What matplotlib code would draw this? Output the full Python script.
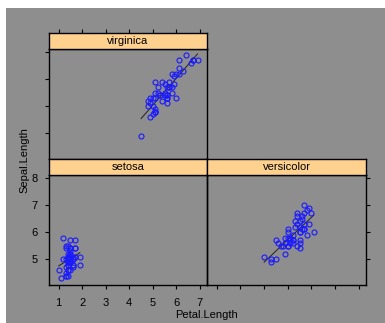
import numpy as np
import matplotlib
matplotlib.use("Agg")
import matplotlib.pyplot as plt
from matplotlib.patches import Rectangle

# ---- data (iris: Petal.Length vs Sepal.Length by Species) ----
setosa_petal = [1.4, 1.4, 1.3, 1.5, 1.4, 1.7, 1.4, 1.5, 1.4, 1.5, 1.5, 1.6, 1.4, 1.1, 1.2,
                1.5, 1.3, 1.4, 1.7, 1.5, 1.7, 1.5, 1.0, 1.7, 1.9, 1.6, 1.6, 1.5, 1.4, 1.6,
                1.6, 1.5, 1.5, 1.4, 1.5, 1.2, 1.3, 1.4, 1.3, 1.5, 1.3, 1.3, 1.3, 1.6, 1.9,
                1.4, 1.6, 1.4, 1.5, 1.4]
setosa_sepal = [5.1, 4.9, 4.7, 4.6, 5.0, 5.4, 4.6, 5.0, 4.4, 4.9, 5.4, 4.8, 4.8, 4.3, 5.8,
                5.7, 5.4, 5.1, 5.7, 5.1, 5.4, 5.1, 4.6, 5.1, 4.8, 5.0, 5.0, 5.2, 5.2, 4.7,
                4.8, 5.4, 5.2, 5.5, 4.9, 5.0, 5.5, 4.9, 4.4, 5.1, 5.0, 4.5, 4.4, 5.0, 5.1,
                4.8, 5.1, 4.6, 5.3, 5.0]
versicolor_petal = [4.7, 4.5, 4.9, 4.0, 4.6, 4.5, 4.7, 3.3, 4.6, 3.9, 3.5, 4.2, 4.0, 4.7, 3.6,
                    4.4, 4.5, 4.1, 4.5, 3.9, 4.8, 4.0, 4.9, 4.7, 4.3, 4.4, 4.8, 5.0, 4.5, 3.5,
                    3.8, 3.7, 3.9, 5.1, 4.5, 4.5, 4.7, 4.4, 4.1, 4.0, 4.4, 4.6, 4.0, 3.3, 4.2,
                    4.2, 4.2, 4.3, 3.0, 4.1]
versicolor_sepal = [7.0, 6.4, 6.9, 5.5, 6.5, 5.7, 6.3, 4.9, 6.6, 5.2, 5.0, 5.9, 6.0, 6.1, 5.6,
                    6.7, 5.6, 5.8, 6.2, 5.6, 5.9, 6.1, 6.3, 6.1, 6.4, 6.6, 6.8, 6.7, 6.0, 5.7,
                    5.5, 5.5, 5.8, 6.0, 5.4, 6.0, 6.7, 6.3, 5.6, 5.5, 5.5, 6.1, 5.8, 5.0, 5.6,
                    5.7, 5.7, 6.2, 5.1, 5.7]
virginica_petal = [6.0, 5.1, 5.9, 5.6, 5.8, 6.6, 4.5, 6.3, 5.8, 6.1, 5.1, 5.3, 5.5, 5.0, 5.1,
                   5.3, 5.5, 6.7, 6.9, 5.0, 5.7, 4.9, 6.7, 4.9, 5.7, 6.0, 4.8, 4.9, 5.6, 5.8,
                   6.1, 6.4, 5.6, 5.1, 5.6, 6.1, 5.6, 5.5, 4.8, 5.4, 5.6, 5.1, 5.1, 5.9, 5.7,
                   5.2, 5.0, 5.2, 5.4, 5.1]
virginica_sepal = [6.3, 5.8, 7.1, 6.3, 6.5, 7.6, 4.9, 7.3, 6.7, 7.2, 6.5, 6.4, 6.8, 5.7, 5.8,
                   6.4, 6.5, 7.7, 7.7, 6.0, 6.9, 5.6, 7.7, 6.3, 6.7, 7.2, 6.2, 6.1, 6.4, 7.2,
                   7.4, 7.9, 6.4, 6.3, 6.1, 7.7, 6.3, 6.4, 6.0, 6.9, 6.7, 6.9, 5.8, 6.8, 6.7,
                   6.7, 6.3, 6.5, 6.2, 5.9]

x_ticks = [1, 2, 3, 4, 5, 6, 7]
y_ticks = [5, 6, 7, 8]
x_label = "Petal.Length"
y_label = "Sepal.Length"

# ---- styling ----
plt.rcParams['font.family'] = ['Liberation Sans', 'DejaVu Sans']
W, H = 385, 323
BG = '#8E8E8E'
STRIP = '#FFD18F'
XLIM = (0.59, 7.30)
YLIM = (4.05, 8.11)

fig = plt.figure(figsize=(W / 100, H / 100), dpi=100)
fig.patches.append(Rectangle((6 / W, 0), 1, 1 - 8 / H, transform=fig.transFigure,
                             facecolor=BG, edgecolor='none', zorder=-10))


def box(x0, y0, x1, y1):
    return [x0 / W, 1 - y1 / H, (x1 - x0) / W, (y1 - y0) / H]


def make_panel(rect, strip_rect, name, xs, ys, left=False, bottom=False,
               right=False, labels=False, top_ticks=False):
    ax = fig.add_axes(rect)
    ax.set_facecolor('none')
    ax.set_xlim(*XLIM)
    ax.set_ylim(*YLIM)
    for s in ax.spines.values():
        s.set_linewidth(1.0)
        s.set_color('black')
    ax.set_xticks(x_ticks)
    ax.set_yticks(y_ticks)
    ax.tick_params(axis='both', direction='out', length=3, width=0.8,
                   labelsize=8, colors='black')
    ax.tick_params(axis='x', bottom=bottom, top=False, labelbottom=labels,
                   labeltop=False, pad=6)
    ax.tick_params(axis='y', left=left, right=right, labelleft=labels,
                   labelright=False, pad=5)
    x = np.array(xs)
    y = np.array(ys)
    ax.plot(x, y, linestyle='none', marker='o', markersize=3.6,
            markerfacecolor='none', markeredgecolor='#1a1aff',
            markeredgewidth=0.8, zorder=3)
    b, a = np.polyfit(x, y, 1)
    xx = np.array([x.min(), x.max()])
    ax.plot(xx, a + b * xx, color='#222222', lw=0.7, zorder=2)

    st = fig.add_axes(strip_rect)
    st.set_facecolor(STRIP)
    st.set_xlim(*XLIM)
    st.set_ylim(0, 1)
    for s in st.spines.values():
        s.set_linewidth(1.0)
        s.set_color('black')
    st.set_yticks([])
    if top_ticks:
        st.set_xticks(x_ticks)
        st.tick_params(axis='x', direction='out', length=3, width=0.8,
                       top=True, bottom=False, labeltop=False, labelbottom=False)
    else:
        st.set_xticks([])
    st.text(0.5, 0.5, name, transform=st.transAxes, ha='center', va='center',
            fontsize=8, color='black')
    return ax


make_panel(box(49, 49, 207, 159), box(49, 33, 207, 49), 'virginica',
           virginica_petal, virginica_sepal, left=True, top_ticks=True)
make_panel(box(49, 175, 207, 285), box(49, 159, 207, 175), 'setosa',
           setosa_petal, setosa_sepal, left=True, bottom=True, labels=True)
make_panel(box(207, 175, 366, 285), box(207, 159, 366, 175), 'versicolor',
           versicolor_petal, versicolor_sepal, right=True, bottom=True)

fig.text(207 / W, 1 - 315 / H, x_label, ha='center', va='center', fontsize=8)
fig.text(24 / W, 1 - 160 / H, y_label, ha='center', va='center', fontsize=8,
         rotation=90)

fig.savefig('out.png', dpi=100)
